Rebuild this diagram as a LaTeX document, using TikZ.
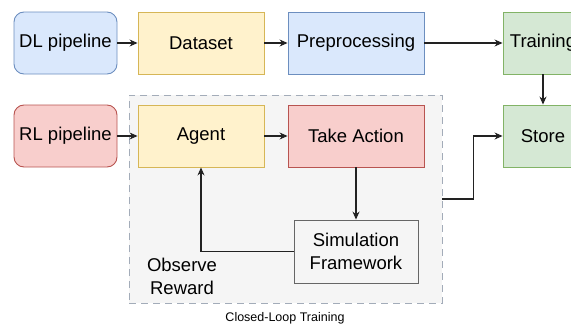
\documentclass[tikz,border=0pt]{standalone}
\usepackage{fontspec}
\setmainfont{Liberation Sans}
\usetikzlibrary{arrows.meta, positioning}

\definecolor{blueFill}{HTML}{DAE8FC}
\definecolor{blueLine}{HTML}{6C8EBF}
\definecolor{yellowFill}{HTML}{FFF2CC}
\definecolor{yellowLine}{HTML}{D6B656}
\definecolor{redFill}{HTML}{F8CECC}
\definecolor{redLine}{HTML}{B85450}
\definecolor{greenFill}{HTML}{D5E8D4}
\definecolor{greenLine}{HTML}{82B366}
\definecolor{grayFill}{HTML}{F5F5F5}
\definecolor{grayLine}{HTML}{666666}
\definecolor{loopLine}{HTML}{A3ACB9}
\definecolor{arrowCol}{HTML}{222222}

\tikzset{
  box/.style={draw, line width=0.9pt, minimum height=62pt, inner sep=0pt,
    font=\fontsize{18.5}{22}\selectfont},
  pipe/.style={box, rounded corners=10pt, minimum width=103pt},
  flow/.style={-{Stealth[length=8pt,width=7pt]}, line width=1.1pt, draw=arrowCol},
}

\begin{document}
\begin{tikzpicture}[x=1pt, y=-1pt]
\useasboundingbox (0,0) rectangle (571,324);
\clip (0,0) rectangle (571,324);

% The closed loop
\node [draw=loopLine, fill=grayFill, dash pattern=on 7pt off 5pt, line width=0.9pt,
  minimum width=313pt, minimum height=208pt, inner sep=0pt] (loop) at (285.5,199) {};
\node [font=\fontsize{12.5}{14}\selectfont] (looplabel) at (285,318) {Closed-Loop Training};

% The DL row
\node [pipe, fill=blueFill, draw=blueLine] (dl) at (65.5,43) {DL pipeline};
\node [box, fill=yellowFill, draw=yellowLine, minimum width=126pt] (dataset) at (201,43) {Dataset};
\node [box, fill=blueFill, draw=blueLine, minimum width=136pt] (prep) at (356,43) {Preprocessing};
\node [box, fill=greenFill, draw=greenLine, minimum width=80pt] (train) at (543,43) {Training};

% The RL row
\node [pipe, fill=redFill, draw=redLine] (rl) at (65.5,136) {RL pipeline};
\node [box, fill=yellowFill, draw=yellowLine, minimum width=126pt] (agent) at (201,136) {Agent};
\node [box, fill=redFill, draw=redLine, minimum width=136pt] (action) at (356,136) {Take Action};
\node [box, fill=greenFill, draw=greenLine, minimum width=80pt] (store) at (543,136) {Store};

% Simulation
\node [box, fill=grayFill, draw=grayLine, minimum width=124pt, minimum height=63pt,
  align=center, font=\fontsize{18.5}{23.5}\selectfont] (sim) at (356,251.5) {Simulation\\Framework};
\node [align=center, font=\fontsize{18.5}{23.5}\selectfont] (reward) at (182,276.5) {Observe\\Reward};

% Arrows
\draw [flow] (dl) -- (dataset);
\draw [flow] (dataset) -- (prep);
\draw [flow] (prep) -- (train);
\draw [flow] (rl) -- (agent);
\draw [flow] (agent) -- (action);
\draw [flow] (train) -- (store);
\draw [flow] (action) -- (sim);
\draw [flow] (sim.west) -| (agent.south);
\draw [flow] (loop.east) -- ++(31,0) |- (store.west);

\end{tikzpicture}
\end{document}
